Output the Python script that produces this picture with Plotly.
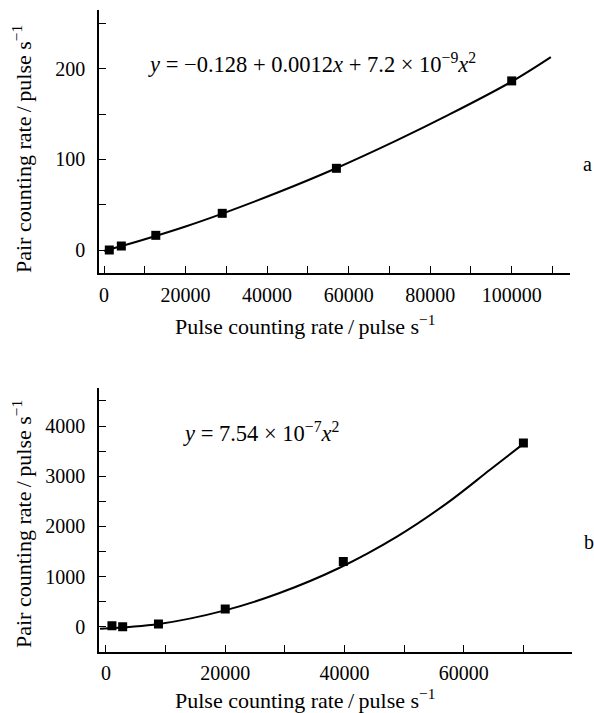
import plotly.graph_objects as go

W, H = 594, 713

# ---- data ----
a_pts_x = [1300, 4250, 12700, 29000, 57000, 100000]
a_pts_y = [0, 4.4, 16.2, 40.5, 90.2, 186.7]
a_fit_x = [0, 8600, 20000, 29200, 42900, 56800, 71800, 84000, 100000, 109600]
a_fit_y = [-1, 10, 26, 40.5, 64, 90, 121, 148, 186, 213]

b_pts_x = [1000, 2800, 8800, 20000, 39800, 70000]
b_pts_y = [20, 0, 54, 353, 1297, 3660]
b_fit_x = [-1000, 8900, 19800, 29000, 39000, 48800, 57200, 64400, 69500]
b_fit_y = [-40, 54, 320, 666, 1165, 1796, 2463, 3128, 3600]

a_xticks = [0, 20000, 40000, 60000, 80000, 100000]
a_yticks = [0, 100, 200]
b_xticks = [0, 20000, 40000, 60000]
b_yticks = [0, 1000, 2000, 3000, 4000]

x_title = "Pulse counting rate\u2009/\u2009pulse s<sup>−1</sup>"
y_title = "Pair counting rate\u2009/\u2009pulse s<sup>−1</sup>"
eq_a = "<i>y</i> = −0.128 + 0.0012<i>x</i> + 7.2 × 10<sup>−9</sup><i>x</i><sup>2</sup>"
eq_b = "<i>y</i> = 7.54 × 10<sup>−7</sup><i>x</i><sup>2</sup>"

FONT = "Liberation Serif"

def px(x):
    return x / W

def py(y):
    return 1 - y / H

fig = go.Figure()
fig.add_trace(go.Scatter(x=a_fit_x, y=a_fit_y, mode="lines", line=dict(color="black", width=2, shape="spline"),
                         xaxis="x", yaxis="y", showlegend=False))
fig.add_trace(go.Scatter(x=a_pts_x, y=a_pts_y, mode="markers", marker=dict(symbol="square", size=9, color="black"),
                         xaxis="x", yaxis="y", showlegend=False))
fig.add_trace(go.Scatter(x=b_fit_x, y=b_fit_y, mode="lines", line=dict(color="black", width=2, shape="spline"),
                         xaxis="x2", yaxis="y2", showlegend=False))
fig.add_trace(go.Scatter(x=b_pts_x, y=b_pts_y, mode="markers", marker=dict(symbol="square", size=9, color="black"),
                         xaxis="x2", yaxis="y2", showlegend=False))

common = dict(showgrid=False, zeroline=False, showline=True, linecolor="black", linewidth=1.5,
              ticks="inside", ticklen=7, tickwidth=1.3, tickcolor="black",
              tickfont=dict(family=FONT, size=20, color="black"))

def minor(d):
    return dict(dtick=d, tick0=0, ticks="inside", ticklen=7, tickcolor="black", tickwidth=1.3)

fig.update_layout(
    width=W, height=H, margin=dict(l=0, r=0, t=0, b=0),
    paper_bgcolor="white", plot_bgcolor="white",
    font=dict(family=FONT, color="black"),
    xaxis=dict(domain=[px(99), px(570)], range=[-1230, 114300], anchor="y",
               tickvals=a_xticks, ticktext=[str(v) for v in a_xticks], minor=minor(10000),
               ticklabelstandoff=3, **common),
    yaxis=dict(domain=[py(273), py(10)], range=[-25.4, 265], anchor="x",
               tickvals=a_yticks, ticktext=[str(v) for v in a_yticks], minor=minor(50),
               ticklabelstandoff=8, **common),
    xaxis2=dict(domain=[px(99), px(571.7)], range=[-1170, 78100], anchor="y2",
                tickvals=b_xticks, ticktext=[str(v) for v in b_xticks], minor=minor(10000),
                ticklabelstandoff=3, **common),
    yaxis2=dict(domain=[py(651.7), py(388.3)], range=[-499, 4752], anchor="x2",
                tickvals=b_yticks, ticktext=[str(v) for v in b_yticks], minor=minor(500),
                ticklabelstandoff=8, **common),
)

tfont = dict(family=FONT, size=22, color="black")
efont = dict(family=FONT, size=22.5, color="black")
lfont = dict(family=FONT, size=20, color="black")
ann = [
    dict(text=x_title, x=px(305), y=py(325), xanchor="center", yanchor="middle", font=tfont),
    dict(text=x_title, x=px(305), y=py(699), xanchor="center", yanchor="middle", font=tfont),
    dict(text=y_title, x=px(22), y=py(149), xanchor="center", yanchor="middle", textangle=-90, font=tfont),
    dict(text=y_title, x=px(22), y=py(524), xanchor="center", yanchor="middle", textangle=-90, font=tfont),
    dict(text=eq_a, x=px(146), y=py(63), xanchor="left", yanchor="middle", font=efont),
    dict(text=eq_b, x=px(181), y=py(432), xanchor="left", yanchor="middle", font=efont),
    dict(text="a", x=px(587), y=py(164), xanchor="center", yanchor="middle", font=lfont),
    dict(text="b", x=px(589), y=py(542), xanchor="center", yanchor="middle", font=lfont),
]
for a in ann:
    a.update(xref="paper", yref="paper", showarrow=False)
fig.update_layout(annotations=ann)

fig.write_html("out.html")
